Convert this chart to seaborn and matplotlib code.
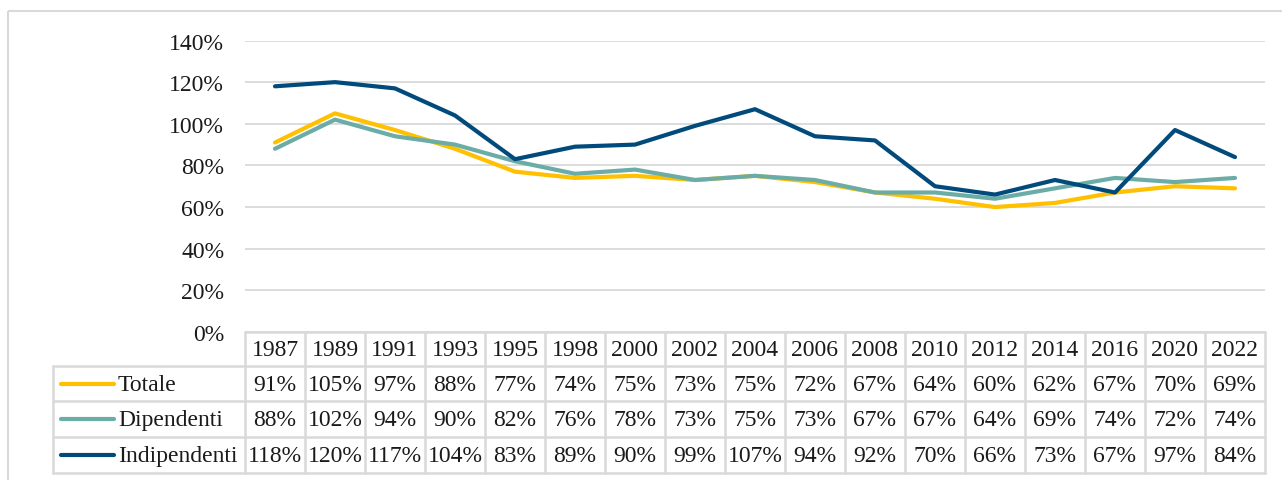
import pandas as pd
import numpy as np
import matplotlib
matplotlib.use("Agg")
import matplotlib.pyplot as plt
import seaborn as sns
from matplotlib.patches import Rectangle
from matplotlib.ticker import PercentFormatter

sns.set_theme(style="white")
plt.rcParams["font.family"] = ["Liberation Serif", "DejaVu Serif"]

years = ["1987", "1989", "1991", "1993", "1995", "1998", "2000", "2002", "2004",
         "2006", "2008", "2010", "2012", "2014", "2016", "2020", "2022"]
totale = [91, 105, 97, 88, 77, 74, 75, 73, 75, 72, 67, 64, 60, 62, 67, 70, 69]
dipendenti = [88, 102, 94, 90, 82, 76, 78, 73, 75, 73, 67, 67, 64, 69, 74, 72, 74]
indipendenti = [118, 120, 117, 104, 83, 89, 90, 99, 107, 94, 92, 70, 66, 73, 67, 97, 84]
series_names = ["Totale", "Dipendenti", "Indipendenti"]
colors = ["#FFC000", "#6BADA6", "#004B7B"]
yticks = [0, 20, 40, 60, 80, 100, 120, 140]

W, H = 1282, 481
grid_col = "#d9d9d9"
text_col = "#1a1a1a"
fs = 17

df = pd.DataFrame({"anno": list(range(len(years))) * 3,
                   "valore": totale + dipendenti + indipendenti,
                   "serie": np.repeat(series_names, len(years))})

fig = plt.figure(figsize=(W / 100, H / 100), dpi=100)

# plot area in pixels
px_left, px_right, px_top, px_bottom = 245, 1265, 41.5, 333
ax = fig.add_axes([px_left / W, 1 - px_bottom / H,
                   (px_right - px_left) / W, (px_bottom - px_top) / H])
sns.lineplot(data=df, x="anno", y="valore", hue="serie", hue_order=series_names,
             palette=colors, linewidth=3.0, legend=False, ax=ax, zorder=3)
ax.set_xlim(-0.5, len(years) - 0.5)
ax.set_ylim(0, 140)
ax.set_yticks(yticks)
ax.yaxis.set_major_formatter(PercentFormatter(decimals=0))
ax.tick_params(axis="y", labelsize=fs, colors=text_col, pad=15, length=0)
ax.set_xticks([])
ax.set_xlabel("")
ax.set_ylabel("")
for s in ax.spines.values():
    s.set_visible(False)
ax.grid(axis="y", color=grid_col, linewidth=1.3)
ax.set_axisbelow(True)

# overlay in pixel coords for the data table and outer frame
ov = fig.add_axes([0, 0, 1, 1], facecolor="none")
ov.set_xlim(0, W)
ov.set_ylim(H, 0)
ov.axis("off")

ov.add_patch(Rectangle((8, 12), W + 20, H, fill=False, edgecolor=grid_col, linewidth=1.5))

ncol = len(years)
cw = (px_right - px_left) / ncol
row_edges = [333, 367, 402, 438, 474]
leg_left = 53
lw = 1.8

# horizontal lines
ov.plot([px_left, px_right], [row_edges[0]] * 2, color=grid_col, lw=lw)
for y in row_edges[1:]:
    ov.plot([leg_left, px_right], [y, y], color=grid_col, lw=lw)
# vertical lines
for i in range(ncol + 1):
    ov.plot([px_left + i * cw] * 2, [row_edges[0], row_edges[-1]], color=grid_col, lw=lw)
ov.plot([leg_left, leg_left], [row_edges[1], row_edges[-1]], color=grid_col, lw=lw)

# header
for i, yr in enumerate(years):
    ov.text(px_left + (i + 0.5) * cw, (row_edges[0] + row_edges[1]) / 2 + 1, yr,
            ha="center", va="center", fontsize=fs, color=text_col)

# rows
for r, (name, vals, c) in enumerate(zip(series_names, [totale, dipendenti, indipendenti], colors)):
    yc = (row_edges[r + 1] + row_edges[r + 2]) / 2 + 1
    ov.plot([61, 114], [yc - 1, yc - 1], color=c, lw=3.0, solid_capstyle="round")
    ov.text(118, yc, name, ha="left", va="center", fontsize=fs, color=text_col)
    for i, v in enumerate(vals):
        ov.text(px_left + (i + 0.5) * cw, yc, f"{v}%", ha="center", va="center",
                fontsize=fs, color=text_col)

fig.savefig("out.png", dpi=100)
